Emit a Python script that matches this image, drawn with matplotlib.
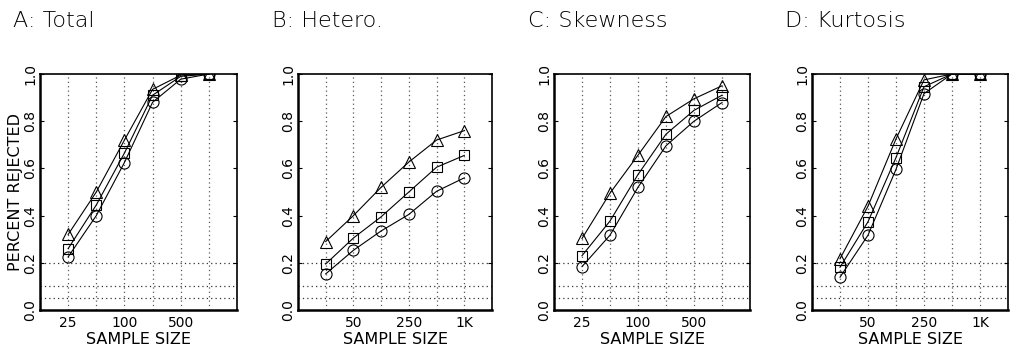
import matplotlib
matplotlib.use("Agg")
import matplotlib.pyplot as plt

# sample sizes, plotted at equally spaced positions
sizes = ["25", "50", "100", "250", "500", "1K"]
positions = [1, 2, 3, 4, 5, 6]

titles = ["A: Total", "B: Hetero.", "C: Skewness", "D: Kurtosis"]

# percent rejected, one list per marker series
total_tri = [0.32, 0.50, 0.72, 0.935, 0.995, 1.0]
total_sq = [0.26, 0.445, 0.665, 0.91, 0.99, 1.0]
total_circ = [0.225, 0.40, 0.625, 0.88, 0.978, 1.0]

hetero_tri = [0.29, 0.40, 0.52, 0.627, 0.72, 0.76]
hetero_sq = [0.195, 0.305, 0.395, 0.50, 0.605, 0.655]
hetero_circ = [0.153, 0.253, 0.335, 0.405, 0.503, 0.56]

skew_tri = [0.303, 0.495, 0.656, 0.82, 0.895, 0.95]
skew_sq = [0.23, 0.377, 0.574, 0.745, 0.846, 0.91]
skew_circ = [0.184, 0.317, 0.52, 0.696, 0.80, 0.879]

kurt_tri = [0.217, 0.44, 0.725, 0.975, 1.0, 1.0]
kurt_sq = [0.181, 0.374, 0.646, 0.946, 1.0, 1.0]
kurt_circ = [0.139, 0.317, 0.596, 0.917, 1.0, 1.0]

panels = [
    (total_tri, total_sq, total_circ),
    (hetero_tri, hetero_sq, hetero_circ),
    (skew_tri, skew_sq, skew_circ),
    (kurt_tri, kurt_sq, kurt_circ),
]
# which sample sizes get a tick label in each panel
shown = [[1, 3, 5], [2, 4, 6], [1, 3, 5], [2, 4, 6]]

ref_lines = [0.2, 0.1, 0.05]

fig = plt.figure(figsize=(10.13, 3.6), dpi=100)

ax_left = [40, 298, 554, 812]
ax_width = [197, 194, 196, 196]
title_x = [13, 272, 528, 785]

dots = (0, (1, 2.5))

for i, (tri, sq, circ) in enumerate(panels):
    ax = fig.add_axes([ax_left[i] / 1013, 50 / 360, ax_width[i] / 1013, 236 / 360])
    for p in positions:
        ax.axvline(p, color="0.35", lw=0.9, ls=dots, zorder=0)
    for r in ref_lines:
        ax.axhline(r, color="0.2", lw=0.9, ls=dots, zorder=0)

    style = dict(color="black", lw=0.8, mfc="none", mec="black", mew=0.8)
    ax.plot(positions, tri, marker="^", ms=8, **style)
    ax.plot(positions, sq, marker="s", ms=7.5, **style)
    ax.plot(positions, circ, marker="o", ms=8, **style)

    ax.set_xlim(0, 7)
    ax.set_ylim(0, 1)
    ax.set_xticks(shown[i])
    ax.set_xticklabels([sizes[k - 1] for k in shown[i]], fontsize=10)
    ax.set_yticks([0, 0.2, 0.4, 0.6, 0.8, 1.0])
    ax.set_yticklabels(["0.0", "0.2", "0.4", "0.6", "0.8", "1.0"],
                       rotation=90, va="center", fontsize=10)
    ax.tick_params(axis="x", length=0, pad=4)
    ax.tick_params(axis="y", direction="in", length=3, width=0.8,
                   right=True, pad=2)
    ax.set_xlabel("SAMPLE SIZE", fontsize=11.5, labelpad=2)
    if i == 0:
        ax.set_ylabel("PERCENT REJECTED", fontsize=11.5, labelpad=0)

    for side in ["left", "bottom"]:
        ax.spines[side].set_linewidth(1.8)
    for side in ["top", "right"]:
        ax.spines[side].set_linewidth(1.2)

    fig.text(title_x[i] / 1013, 1 - 27 / 360, titles[i], fontsize=16,
             fontweight="light", color="black", va="baseline", ha="left")

fig.savefig("out.png", dpi=100)
